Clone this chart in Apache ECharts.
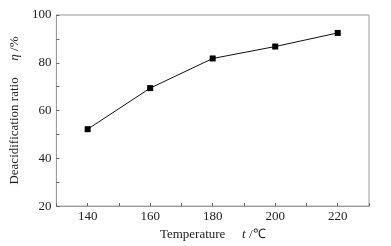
<!DOCTYPE html>
<html><head><meta charset="utf-8">
<script src="https://cdn.jsdelivr.net/npm/echarts@6/dist/echarts.min.js"></script>
<style>html,body{margin:0;padding:0;background:#fff}#c{width:391px;height:246px}</style>
</head><body><div id="c"></div>
<script>
const temperatures = [140, 160, 180, 200, 220];
const deacidification = [52.2, 69.4, 81.8, 86.8, 92.5];
const xTicks = [140, 160, 180, 200, 220];
const yTicks = [20, 40, 60, 80, 100];

const font = 'Liberation Serif, Times New Roman, serif';
const chart = echarts.init(document.getElementById('c'), null, {renderer: 'canvas'});
chart.setOption({
  animation: false,
  backgroundColor: '#fff',
  grid: {left: 53, right: 22, top: 15, bottom: 39, show: true, borderColor: '#999', borderWidth: 1},
  xAxis: {
    type: 'value', min: 130, max: 230, interval: 10,
    axisLine: {lineStyle: {color: '#999'}},
    axisTick: {inside: true, length: 3, lineStyle: {color: '#666'}},
    splitLine: {show: false},
    axisLabel: {color: '#222', fontFamily: font, fontSize: 13, margin: 4,
      formatter: v => xTicks.includes(v) ? String(v) : ''},
    name: '{a|Temperature}     {b|t}{a| /℃}',
    nameLocation: 'middle', nameGap: 20,
    nameTextStyle: {rich: {a: {fontFamily: font, fontSize: 13, color: '#222'}, b: {fontFamily: font, fontSize: 13, fontStyle: 'italic', color: '#222'}}}
  },
  yAxis: {
    type: 'value', min: 20, max: 100, interval: 10,
    axisLine: {show: true, lineStyle: {color: '#999'}},
    axisTick: {inside: true, length: 3, lineStyle: {color: '#666'}},
    splitLine: {show: false},
    axisLabel: {color: '#222', fontFamily: font, fontSize: 13, margin: 5,
      formatter: v => yTicks.includes(v) ? String(v) : ''},
    name: '{a|Deacidification ratio}     {b|η}{a| /%}',
    nameLocation: 'middle', nameGap: 34, nameRotate: 90,
    nameTextStyle: {rich: {a: {fontFamily: font, fontSize: 13, color: '#222'}, b: {fontFamily: font, fontSize: 13, fontStyle: 'italic', color: '#222'}}}
  },
  series: [{
    type: 'line',
    data: temperatures.map((t, i) => [t, deacidification[i]]),
    symbol: 'rect', symbolSize: 6,
    lineStyle: {color: '#111', width: 1},
    itemStyle: {color: '#000'}
  }]
});
</script></body></html>
